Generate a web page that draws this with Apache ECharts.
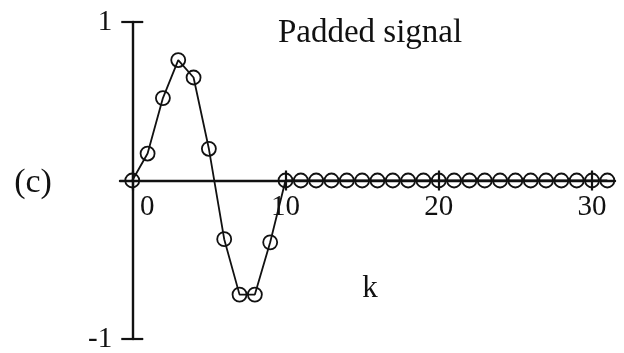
<!DOCTYPE html>
<html>
<head>
<meta charset="utf-8">
<script src="https://cdn.jsdelivr.net/npm/echarts@6/dist/echarts.min.js"></script>
<style>
  html, body { margin: 0; padding: 0; background: #fff; }
  #chart { width: 624px; height: 353px; }
</style>
</head>
<body>
<div id="chart"></div>
<script>
// Sample index k = 0..31: ten signal samples followed by zero padding
const kValues = [0,1,2,3,4,5,6,7,8,9,10,11,12,13,14,15,16,17,18,19,20,21,22,23,24,25,26,27,28,29,30,31];
const signalValues = [0, 0.17, 0.52, 0.76, 0.65, 0.2, -0.37, -0.72, -0.72, -0.39,
  0, 0, 0, 0, 0, 0, 0, 0, 0, 0, 0, 0, 0, 0, 0, 0, 0, 0, 0, 0, 0, 0];
const xTickValues = [0, 10, 20, 30];
const yTickValues = [-1, 1];
const yTickLabels = ['-1', '1'];
const titleText = 'Padded signal';
const xName = 'k';
const panelLabel = '(c)';

const serif = '"Liberation Serif", "DejaVu Serif", serif';
const ink = '#111';

// Plot frame (pixels) and data ranges
const W = 624, H = 353;
const plotLeft = 120, plotRight = 615, plotTop = 22, plotBottom = 339;
const xMin = -0.8, xMax = 31.5, yMin = -1, yMax = 1;
// The axes cross at the origin, so each axis gets a grid whose edge sits on the other axis's zero
const originX = plotLeft + (0 - xMin) / (xMax - xMin) * (plotRight - plotLeft);
const originY = plotTop + (yMax - 0) / (yMax - yMin) * (plotBottom - plotTop);

const points = kValues.map((k, i) => [k, signalValues[i]]);

const chart = echarts.init(document.getElementById('chart'), null, { renderer: 'canvas' });

const hiddenAxis = (extra) => Object.assign({
  type: 'value', show: false, splitLine: { show: false }
}, extra);

const tickStyle = { color: ink, width: 2.2 };
const axisLineStyle = { color: ink, width: 2.4 };

chart.setOption({
  animation: false,
  backgroundColor: '#fff',
  grid: [
    // 0: data area
    { left: plotLeft, right: W - plotRight, top: plotTop, bottom: H - plotBottom, outerBoundsMode: 'none' },
    // 1: horizontal axis, its bottom edge on y = 0
    { left: plotLeft, right: W - plotRight, top: plotTop, bottom: H - originY, outerBoundsMode: 'none' },
    // 2: vertical axis, its left edge on k = 0
    { left: originX, right: W - plotRight, top: plotTop, bottom: H - plotBottom, outerBoundsMode: 'none' }
  ],
  xAxis: [
    hiddenAxis({ gridIndex: 0, min: xMin, max: xMax }),
    {
      type: 'value', gridIndex: 1, position: 'bottom', min: xMin, max: xMax,
      splitLine: { show: false },
      axisLine: { show: true, onZero: false, lineStyle: axisLineStyle },
      axisTick: { show: true, length: 10, customValues: xTickValues, lineStyle: tickStyle },
      axisLabel: {
        show: true, customValues: xTickValues, margin: 12,
        fontFamily: serif, fontSize: 29, color: ink,
        formatter: v => (v === 0 ? '{z|0}' : String(v)),
        rich: { z: { fontFamily: serif, fontSize: 29, color: ink, padding: [0, 0, 0, 30] } }
      }
    },
    {
      type: 'value', gridIndex: 1, position: 'bottom', min: xMin, max: xMax,
      splitLine: { show: false },
      axisLine: { show: false, onZero: false },
      axisTick: { show: true, inside: true, length: 10, customValues: xTickValues, lineStyle: tickStyle },
      axisLabel: { show: false }
    },
    hiddenAxis({ gridIndex: 2, min: 0, max: 1 })
  ],
  yAxis: [
    hiddenAxis({ gridIndex: 0, min: yMin, max: yMax }),
    hiddenAxis({ gridIndex: 1, min: 0, max: 1 }),
    {
      type: 'value', gridIndex: 2, position: 'left', min: yMin, max: yMax,
      splitLine: { show: false },
      axisLine: { show: true, onZero: false, lineStyle: axisLineStyle },
      axisTick: { show: true, length: 11, customValues: yTickValues, lineStyle: tickStyle },
      axisLabel: {
        show: true, customValues: yTickValues, margin: 20,
        fontFamily: serif, fontSize: 29, color: ink,
        formatter: v => yTickLabels[yTickValues.indexOf(v)]
      }
    },
    {
      type: 'value', gridIndex: 2, position: 'left', min: yMin, max: yMax,
      splitLine: { show: false },
      axisLine: { show: false, onZero: false },
      axisTick: { show: true, inside: true, length: 11, customValues: yTickValues, lineStyle: tickStyle },
      axisLabel: { show: false }
    }
  ],
  graphic: [
    { type: 'text', x: 370, y: 33, style: { text: titleText, font: '33px ' + serif, fill: ink, textAlign: 'center', textVerticalAlign: 'middle' } },
    { type: 'text', x: 370, y: 289, style: { text: xName, font: '31px ' + serif, fill: ink, textAlign: 'center', textVerticalAlign: 'middle' } },
    { type: 'text', x: 33, y: 183, style: { text: panelLabel, font: '34px ' + serif, fill: ink, textAlign: 'center', textVerticalAlign: 'middle' } }
  ],
  series: [{
    type: 'line',
    xAxisIndex: 0,
    yAxisIndex: 0,
    data: points,
    symbol: 'circle',
    symbolSize: 14,
    lineStyle: { color: ink, width: 1.8 },
    itemStyle: { color: 'rgba(0,0,0,0)', borderColor: ink, borderWidth: 1.8 },
    z: 5
  }]
});
</script>
</body>
</html>
